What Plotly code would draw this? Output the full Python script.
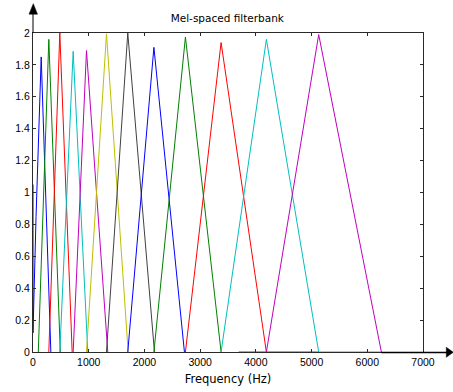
import plotly.graph_objects as go

# ---- data ----
filter_hz = [
    [0, 0, 55, 147, 320],
    [95, 284, 490],
    [284, 481, 703],
    [481, 721, 983],
    [721, 960, 1342],
    [960, 1319, 1708],
    [1319, 1701, 2180],
    [1701, 2170, 2718],
    [2170, 2736, 3376],
    [2736, 3376, 4189, 5128],
    [3376, 4189, 5128, 6253],
    [3692, 4189, 5128, 6253],
]
filter_gain = [
    [1.05, 0.12, 0.85, 1.85, 0],
    [0, 1.96, 0],
    [0, 2.0, 0],
    [0, 1.885, 0],
    [0, 1.89, 0],
    [0, 1.995, 0],
    [0, 2.0, 0],
    [0, 1.91, 0],
    [0, 1.975, 0],
    [0, 1.94, 0, 0],
    [0, 1.96, 0, 0],
    [0, 0, 1.99, 0],
]
line_colors = ["#0000ff", "#008000", "#ff0000", "#00bfbf", "#bf00bf", "#bfbf00", "#404040"]

x_ticks = [0, 1000, 2000, 3000, 4000, 5000, 6000, 7000]
x_ticktext = ["0", "1000", "2000", "3000", "4000", "5000", "6000", "7000"]
y_ticks = [0, 0.2, 0.4, 0.6, 0.8, 1, 1.2, 1.4, 1.6, 1.8, 2]
y_ticktext = ["0", "0.2", "0.4", "0.6", "0.8", "1", "1.2", "1.4", "1.6", "1.8", "2"]

title_text = "Mel-spaced filterbank"
xlabel_text = "Frequency (Hz)"

# ---- figure ----
W, H = 453, 392
L, R, T, B = 32.5, 30.3, 33.3, 40.3
PW, PH = W - L - R, H - T - B

def px(x):
    return (x - L) / PW

def py(y):
    return (H - B - y) / PH

fig = go.Figure()
for i, (xs, ys) in enumerate(zip(filter_hz, filter_gain)):
    fig.add_trace(go.Scatter(
        x=xs, y=ys, mode="lines",
        line=dict(color=line_colors[i % len(line_colors)], width=1),
        showlegend=False, hoverinfo="skip",
    ))

font = "Liberation Sans, Arial, sans-serif"
label_font = "DejaVu Sans, sans-serif"
axis_col = "#2a2a2a"
common = dict(
    showgrid=False, zeroline=False, showline=True, linecolor=axis_col, linewidth=1,
    mirror="ticks", ticks="inside", ticklen=3, tickcolor=axis_col, tickwidth=1,
    tickfont=dict(family=font, size=10.5, color="black"), automargin=False,
)
fig.update_xaxes(range=[0, 7000], tickvals=x_ticks, ticktext=x_ticktext,
                 title=dict(text=xlabel_text, font=dict(family=label_font, size=11.5, color="black"), standoff=8),
                 **common)
fig.update_yaxes(range=[0, 2], tickvals=y_ticks, ticktext=y_ticktext, **common)

shapes = []
# y-axis arrow
shapes.append(dict(type="line", xref="paper", yref="paper",
                   x0=px(32.5), x1=px(32.5), y0=py(33.3), y1=py(13),
                   line=dict(color="black", width=1)))
shapes.append(dict(type="path", xref="paper", yref="paper",
                   path=f"M {px(28.5)} {py(14.5)} L {px(32.8)} {py(4)} L {px(37)} {py(14.5)} Z",
                   fillcolor="black", line=dict(color="black", width=0.5)))
# x-axis arrow
shapes.append(dict(type="line", xref="paper", yref="paper",
                   x0=px(381), x1=px(447), y0=py(352.2), y1=py(352.2),
                   line=dict(color="black", width=1.6)))
shapes.append(dict(type="path", xref="paper", yref="paper",
                   path=f"M {px(446)} {py(347)} L {px(453)} {py(352)} L {px(446)} {py(357)} Z",
                   fillcolor="black", line=dict(color="black", width=0.5)))

fig.update_layout(
    width=W, height=H,
    margin=dict(l=L, r=R, t=T, b=B, pad=0),
    paper_bgcolor="white", plot_bgcolor="white",
    title=dict(text=title_text, x=px(228.3), xanchor="center", y=1 - 18.5 / H, yanchor="middle",
               font=dict(family=label_font, size=10.5, color="black")),
    shapes=shapes,
)

fig.write_html("out.html", config={"displayModeBar": False},
               post_script="document.body.style.margin='0';document.body.style.padding='0';")
